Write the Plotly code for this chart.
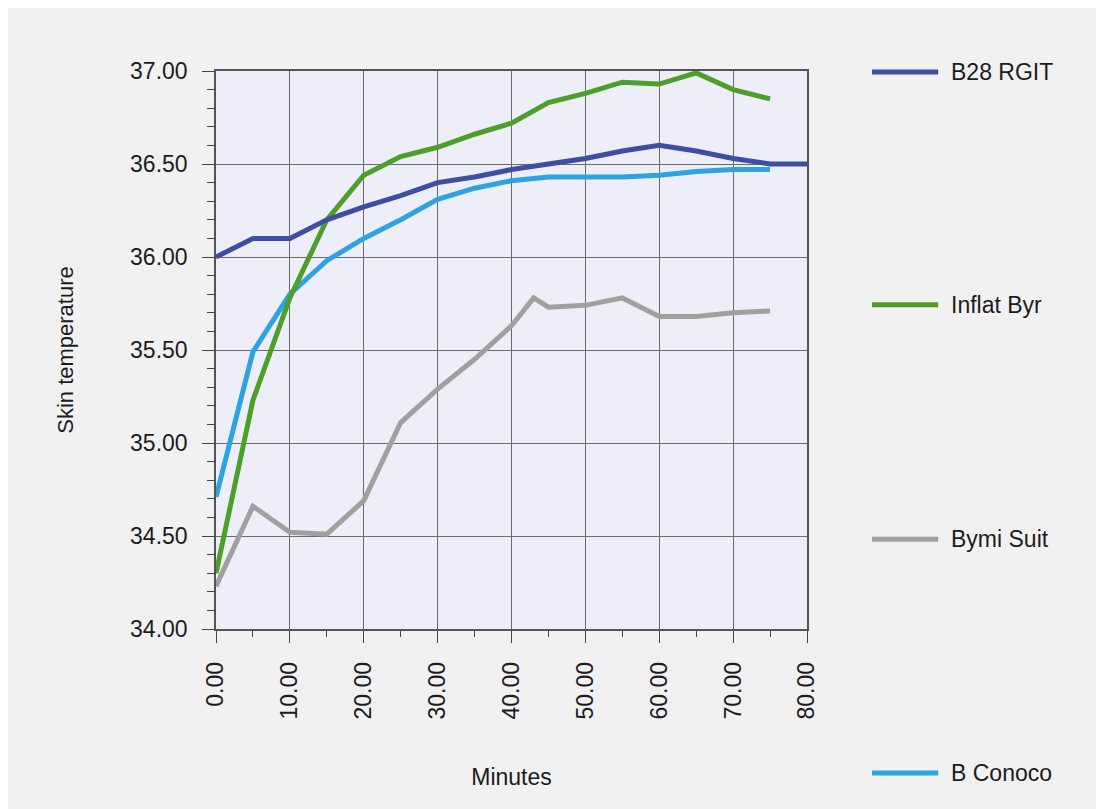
import plotly.graph_objects as go

# ---- data ----
t_b28 = [0, 5, 10, 15, 20, 25, 30, 35, 40, 45, 50, 55, 60, 65, 70, 75, 80]
b28_rgit = [36.00, 36.10, 36.10, 36.20, 36.27, 36.33, 36.40, 36.43, 36.47, 36.50,
            36.53, 36.57, 36.60, 36.57, 36.53, 36.50, 36.50]

t_inflat = [0, 5, 10, 15, 20, 25, 30, 35, 40, 45, 50, 55, 60, 65, 70, 75]
inflat_byr = [34.30, 35.23, 35.78, 36.20, 36.44, 36.54, 36.59, 36.66, 36.72, 36.83,
              36.88, 36.94, 36.93, 36.99, 36.90, 36.85]

t_byrni = [0, 5, 10, 15, 20, 25, 30, 35, 40, 43, 45, 50, 55, 60, 65, 70, 75]
byrni_suit = [34.23, 34.66, 34.52, 34.51, 34.69, 35.11, 35.29, 35.45, 35.63, 35.78,
              35.73, 35.74, 35.78, 35.68, 35.68, 35.70, 35.71]

t_conoco = [0, 5, 10, 15, 20, 25, 30, 35, 40, 45, 50, 55, 60, 65, 70, 75]
b_conoco = [34.71, 35.49, 35.80, 35.98, 36.10, 36.20, 36.31, 36.37, 36.41, 36.43,
            36.43, 36.43, 36.44, 36.46, 36.47, 36.47]

series_names = ["B28 RGIT", "Inflat Byr", "Bymi Suit", "B Conoco"]
series_colors = ["#3d4ea3", "#4e9e2b", "#a0a0a0", "#2fa2e2"]
series_x = [t_b28, t_inflat, t_byrni, t_conoco]
series_y = [b28_rgit, inflat_byr, byrni_suit, b_conoco]
legend_y = [0.998, 0.581, 0.161, -0.258]   # legend entry positions (paper units)

x_ticks = [0, 10, 20, 30, 40, 50, 60, 70, 80]
y_ticks = [34.0, 34.5, 35.0, 35.5, 36.0, 36.5, 37.0]

FONT = "Liberation Sans, Arial, Helvetica, sans-serif"
TXT = "#1c1c1c"

fig = go.Figure()
draw_order = [2, 3, 1, 0]
for i in draw_order:
    fig.add_trace(go.Scatter(
        x=series_x[i], y=series_y[i], mode="lines", name=series_names[i],
        line=dict(color=series_colors[i], width=5), showlegend=False))

# custom legend (long line samples, widely spaced entries)
for name, col, ly in zip(series_names, series_colors, legend_y):
    fig.add_shape(type="line", xref="paper", yref="paper",
                  x0=1.110, x1=1.222, y0=ly, y1=ly,
                  line=dict(color=col, width=5))
    fig.add_annotation(xref="paper", yref="paper", x=1.240, y=ly, text=name,
                       showarrow=False, xanchor="left", yanchor="middle",
                       font=dict(family=FONT, size=23, color=TXT))

axis_common = dict(
    showline=True, linecolor="#555555", linewidth=1.5, mirror=True,
    showgrid=True, gridcolor="#6a6a6a", gridwidth=1.2,
    ticks="outside", ticklen=12, tickcolor="#444444", tickwidth=1.3,
    ticklabelstandoff=10,
    zeroline=False,
    tickfont=dict(family=FONT, size=23, color=TXT),
)

fig.update_xaxes(
    range=[0, 80], tickvals=x_ticks, tickformat=".2f", tickangle=-90,
    minor=dict(dtick=5, ticks="outside", ticklen=6, tickcolor="#444444", showgrid=False),
    title=dict(text="Minutes", font=dict(family=FONT, size=23, color=TXT), standoff=50),
    **axis_common)
fig.update_yaxes(
    range=[34, 37], tickvals=y_ticks, tickformat=".2f",
    minor=dict(dtick=0.1, ticks="outside", ticklen=7, tickcolor="#444444", showgrid=False),
    title=dict(text="Skin temperature", font=dict(family=FONT, size=22, color=TXT), standoff=50),
    **axis_common)

fig.update_layout(
    width=1096, height=801,
    margin=dict(l=208, r=297, t=63, b=180, autoexpand=False),
    paper_bgcolor="#f1f1f1", plot_bgcolor="#eeeef8",
    showlegend=False,
    font=dict(family=FONT),
)

fig.write_html("out.html")
